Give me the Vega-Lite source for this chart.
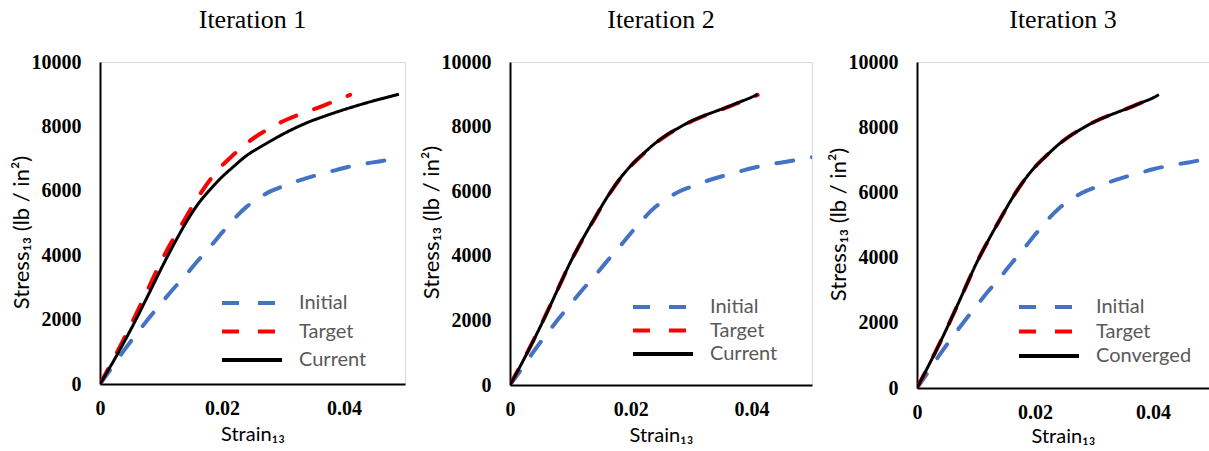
{
  "$schema": "https://vega.github.io/schema/vega-lite/v6.json",
  "padding": {"left": 9, "top": 6, "right": 0, "bottom": 0},
  "background": "#ffffff",
  "datasets": {
    "p1": [
      {"s": "Initial", "x": 0, "y": 0}, {"s": "Initial", "x": 0.002, "y": 520}, {"s": "Initial", "x": 0.004, "y": 1060}, {"s": "Initial", "x": 0.006, "y": 1560}, {"s": "Initial", "x": 0.008, "y": 2040}, {"s": "Initial", "x": 0.010, "y": 2500}, {"s": "Initial", "x": 0.012, "y": 2950}, {"s": "Initial", "x": 0.014, "y": 3370}, {"s": "Initial", "x": 0.016, "y": 3820}, {"s": "Initial", "x": 0.018, "y": 4250}, {"s": "Initial", "x": 0.020, "y": 4700}, {"s": "Initial", "x": 0.022, "y": 5130}, {"s": "Initial", "x": 0.024, "y": 5500}, {"s": "Initial", "x": 0.026, "y": 5770}, {"s": "Initial", "x": 0.028, "y": 5990}, {"s": "Initial", "x": 0.030, "y": 6140}, {"s": "Initial", "x": 0.032, "y": 6280}, {"s": "Initial", "x": 0.034, "y": 6400}, {"s": "Initial", "x": 0.036, "y": 6510}, {"s": "Initial", "x": 0.038, "y": 6610}, {"s": "Initial", "x": 0.040, "y": 6710}, {"s": "Initial", "x": 0.043, "y": 6830}, {"s": "Initial", "x": 0.046, "y": 6920}, {"s": "Initial", "x": 0.049, "y": 7020},
      {"s": "Target", "x": 0, "y": 0}, {"s": "Target", "x": 0.002, "y": 700}, {"s": "Target", "x": 0.004, "y": 1430}, {"s": "Target", "x": 0.006, "y": 2200}, {"s": "Target", "x": 0.008, "y": 3000}, {"s": "Target", "x": 0.010, "y": 3800}, {"s": "Target", "x": 0.012, "y": 4500}, {"s": "Target", "x": 0.014, "y": 5150}, {"s": "Target", "x": 0.016, "y": 5780}, {"s": "Target", "x": 0.018, "y": 6330}, {"s": "Target", "x": 0.020, "y": 6780}, {"s": "Target", "x": 0.022, "y": 7140}, {"s": "Target", "x": 0.024, "y": 7470}, {"s": "Target", "x": 0.026, "y": 7740}, {"s": "Target", "x": 0.028, "y": 7960}, {"s": "Target", "x": 0.030, "y": 8160}, {"s": "Target", "x": 0.032, "y": 8320}, {"s": "Target", "x": 0.034, "y": 8460}, {"s": "Target", "x": 0.036, "y": 8600}, {"s": "Target", "x": 0.038, "y": 8750}, {"s": "Target", "x": 0.040, "y": 8900}, {"s": "Target", "x": 0.041, "y": 8980},
      {"s": "Current", "x": 0, "y": 0}, {"s": "Current", "x": 0.002, "y": 640}, {"s": "Current", "x": 0.004, "y": 1320}, {"s": "Current", "x": 0.006, "y": 2040}, {"s": "Current", "x": 0.008, "y": 2800}, {"s": "Current", "x": 0.010, "y": 3570}, {"s": "Current", "x": 0.012, "y": 4300}, {"s": "Current", "x": 0.014, "y": 4980}, {"s": "Current", "x": 0.016, "y": 5570}, {"s": "Current", "x": 0.018, "y": 6030}, {"s": "Current", "x": 0.020, "y": 6430}, {"s": "Current", "x": 0.022, "y": 6770}, {"s": "Current", "x": 0.024, "y": 7090}, {"s": "Current", "x": 0.026, "y": 7330}, {"s": "Current", "x": 0.028, "y": 7550}, {"s": "Current", "x": 0.030, "y": 7760}, {"s": "Current", "x": 0.032, "y": 7950}, {"s": "Current", "x": 0.034, "y": 8120}, {"s": "Current", "x": 0.037, "y": 8330}, {"s": "Current", "x": 0.040, "y": 8520}, {"s": "Current", "x": 0.0445, "y": 8775}, {"s": "Current", "x": 0.049, "y": 9000}
    ],
    "p2": [
      {"s": "Initial", "x": 0, "y": 0}, {"s": "Initial", "x": 0.002, "y": 520}, {"s": "Initial", "x": 0.004, "y": 1060}, {"s": "Initial", "x": 0.006, "y": 1560}, {"s": "Initial", "x": 0.008, "y": 2040}, {"s": "Initial", "x": 0.010, "y": 2500}, {"s": "Initial", "x": 0.012, "y": 2950}, {"s": "Initial", "x": 0.014, "y": 3370}, {"s": "Initial", "x": 0.016, "y": 3820}, {"s": "Initial", "x": 0.018, "y": 4250}, {"s": "Initial", "x": 0.020, "y": 4700}, {"s": "Initial", "x": 0.022, "y": 5130}, {"s": "Initial", "x": 0.024, "y": 5500}, {"s": "Initial", "x": 0.026, "y": 5770}, {"s": "Initial", "x": 0.028, "y": 5990}, {"s": "Initial", "x": 0.030, "y": 6140}, {"s": "Initial", "x": 0.032, "y": 6280}, {"s": "Initial", "x": 0.034, "y": 6400}, {"s": "Initial", "x": 0.036, "y": 6510}, {"s": "Initial", "x": 0.038, "y": 6610}, {"s": "Initial", "x": 0.040, "y": 6710}, {"s": "Initial", "x": 0.043, "y": 6830}, {"s": "Initial", "x": 0.046, "y": 6920}, {"s": "Initial", "x": 0.049, "y": 7020}, {"s": "Initial", "x": 0.050, "y": 7050},
      {"s": "Target", "x": 0, "y": 0}, {"s": "Target", "x": 0.002, "y": 700}, {"s": "Target", "x": 0.004, "y": 1430}, {"s": "Target", "x": 0.006, "y": 2200}, {"s": "Target", "x": 0.008, "y": 3000}, {"s": "Target", "x": 0.010, "y": 3800}, {"s": "Target", "x": 0.012, "y": 4500}, {"s": "Target", "x": 0.014, "y": 5150}, {"s": "Target", "x": 0.016, "y": 5780}, {"s": "Target", "x": 0.018, "y": 6330}, {"s": "Target", "x": 0.020, "y": 6780}, {"s": "Target", "x": 0.022, "y": 7140}, {"s": "Target", "x": 0.024, "y": 7470}, {"s": "Target", "x": 0.026, "y": 7740}, {"s": "Target", "x": 0.028, "y": 7960}, {"s": "Target", "x": 0.030, "y": 8160}, {"s": "Target", "x": 0.032, "y": 8320}, {"s": "Target", "x": 0.034, "y": 8460}, {"s": "Target", "x": 0.036, "y": 8600}, {"s": "Target", "x": 0.038, "y": 8750}, {"s": "Target", "x": 0.040, "y": 8900}, {"s": "Target", "x": 0.041, "y": 8980},
      {"s": "Current", "x": 0, "y": 0}, {"s": "Current", "x": 0.002, "y": 690}, {"s": "Current", "x": 0.004, "y": 1420}, {"s": "Current", "x": 0.006, "y": 2190}, {"s": "Current", "x": 0.008, "y": 3000}, {"s": "Current", "x": 0.010, "y": 3800}, {"s": "Current", "x": 0.012, "y": 4510}, {"s": "Current", "x": 0.014, "y": 5160}, {"s": "Current", "x": 0.016, "y": 5790}, {"s": "Current", "x": 0.018, "y": 6340}, {"s": "Current", "x": 0.020, "y": 6790}, {"s": "Current", "x": 0.022, "y": 7150}, {"s": "Current", "x": 0.024, "y": 7480}, {"s": "Current", "x": 0.026, "y": 7750}, {"s": "Current", "x": 0.028, "y": 7970}, {"s": "Current", "x": 0.030, "y": 8170}, {"s": "Current", "x": 0.032, "y": 8330}, {"s": "Current", "x": 0.034, "y": 8470}, {"s": "Current", "x": 0.036, "y": 8610}, {"s": "Current", "x": 0.038, "y": 8760}, {"s": "Current", "x": 0.040, "y": 8910}, {"s": "Current", "x": 0.041, "y": 9000}
    ],
    "p3": [
      {"s": "Initial", "x": 0, "y": 0}, {"s": "Initial", "x": 0.002, "y": 520}, {"s": "Initial", "x": 0.004, "y": 1060}, {"s": "Initial", "x": 0.006, "y": 1560}, {"s": "Initial", "x": 0.008, "y": 2040}, {"s": "Initial", "x": 0.010, "y": 2500}, {"s": "Initial", "x": 0.012, "y": 2950}, {"s": "Initial", "x": 0.014, "y": 3370}, {"s": "Initial", "x": 0.016, "y": 3820}, {"s": "Initial", "x": 0.018, "y": 4250}, {"s": "Initial", "x": 0.020, "y": 4700}, {"s": "Initial", "x": 0.022, "y": 5130}, {"s": "Initial", "x": 0.024, "y": 5500}, {"s": "Initial", "x": 0.026, "y": 5770}, {"s": "Initial", "x": 0.028, "y": 5990}, {"s": "Initial", "x": 0.030, "y": 6140}, {"s": "Initial", "x": 0.032, "y": 6280}, {"s": "Initial", "x": 0.034, "y": 6400}, {"s": "Initial", "x": 0.036, "y": 6510}, {"s": "Initial", "x": 0.038, "y": 6610}, {"s": "Initial", "x": 0.040, "y": 6710}, {"s": "Initial", "x": 0.043, "y": 6830}, {"s": "Initial", "x": 0.046, "y": 6920}, {"s": "Initial", "x": 0.049, "y": 7020}, {"s": "Initial", "x": 0.050, "y": 7050},
      {"s": "Target", "x": 0, "y": 0}, {"s": "Target", "x": 0.002, "y": 700}, {"s": "Target", "x": 0.004, "y": 1430}, {"s": "Target", "x": 0.006, "y": 2200}, {"s": "Target", "x": 0.008, "y": 3000}, {"s": "Target", "x": 0.010, "y": 3800}, {"s": "Target", "x": 0.012, "y": 4500}, {"s": "Target", "x": 0.014, "y": 5150}, {"s": "Target", "x": 0.016, "y": 5780}, {"s": "Target", "x": 0.018, "y": 6330}, {"s": "Target", "x": 0.020, "y": 6780}, {"s": "Target", "x": 0.022, "y": 7140}, {"s": "Target", "x": 0.024, "y": 7470}, {"s": "Target", "x": 0.026, "y": 7740}, {"s": "Target", "x": 0.028, "y": 7960}, {"s": "Target", "x": 0.030, "y": 8160}, {"s": "Target", "x": 0.032, "y": 8320}, {"s": "Target", "x": 0.034, "y": 8460}, {"s": "Target", "x": 0.036, "y": 8600}, {"s": "Target", "x": 0.038, "y": 8750}, {"s": "Target", "x": 0.040, "y": 8900}, {"s": "Target", "x": 0.041, "y": 8980},
      {"s": "Converged", "x": 0, "y": 0}, {"s": "Converged", "x": 0.002, "y": 700}, {"s": "Converged", "x": 0.004, "y": 1430}, {"s": "Converged", "x": 0.006, "y": 2200}, {"s": "Converged", "x": 0.008, "y": 3000}, {"s": "Converged", "x": 0.010, "y": 3800}, {"s": "Converged", "x": 0.012, "y": 4500}, {"s": "Converged", "x": 0.014, "y": 5150}, {"s": "Converged", "x": 0.016, "y": 5780}, {"s": "Converged", "x": 0.018, "y": 6330}, {"s": "Converged", "x": 0.020, "y": 6780}, {"s": "Converged", "x": 0.022, "y": 7140}, {"s": "Converged", "x": 0.024, "y": 7470}, {"s": "Converged", "x": 0.026, "y": 7740}, {"s": "Converged", "x": 0.028, "y": 7960}, {"s": "Converged", "x": 0.030, "y": 8160}, {"s": "Converged", "x": 0.032, "y": 8320}, {"s": "Converged", "x": 0.034, "y": 8460}, {"s": "Converged", "x": 0.036, "y": 8600}, {"s": "Converged", "x": 0.038, "y": 8750}, {"s": "Converged", "x": 0.040, "y": 8900}, {"s": "Converged", "x": 0.041, "y": 9000}
    ]
  },
  "config": {
    "view": {"stroke": "#d9d9d9", "strokeWidth": 1},
    "axis": {
      "grid": false, "ticks": false, "domainColor": "#000000", "domainWidth": 2,
      "labelFont": "Liberation Serif", "labelFontSize": 20, "labelFontWeight": "bold", "labelColor": "#000000",
      "labelFlush": false, "labelOverlap": false,
      "titleFont": "Lato", "titleFontSize": 20, "titleFontWeight": "normal", "titleColor": "#000000"
    },
    "axisY": {"titleFontSize": 22},
    "title": {"font": "Liberation Serif", "fontSize": 26, "fontWeight": "normal", "color": "#000000", "anchor": "middle", "offset": 19},
    "legend": {
      "orient": "none", "title": null, "labelFont": "Lato", "labelFontSize": 20, "labelColor": "#595959",
      "symbolType": "M-5,0H5", "symbolSize": 144, "symbolStrokeWidth": 4, "labelOffset": 37, "rowPadding": 4
    }
  },
  "spacing": 13,
  "resolve": {"scale": {"x": "independent", "y": "independent", "color": "independent", "strokeDash": "independent"}, "legend": {"color": "independent", "strokeDash": "independent"}},
  "hconcat": [
    {
      "title": "Iteration 1",
      "width": 305, "height": 322,
      "data": {"name": "p1"},
      "encoding": {
        "x": {"field": "x", "type": "quantitative", "scale": {"domain": [0, 0.05], "nice": false}, "axis": {"values": [0, 0.02, 0.04], "format": "~g", "labelPadding": 14, "titlePadding": 6, "title": "Strain₁₃"}},
        "y": {"field": "y", "type": "quantitative", "scale": {"domain": [0, 10000], "nice": false}, "axis": {"values": [0, 2000, 4000, 6000, 8000, 10000], "format": "d", "labelPadding": 19, "titlePadding": -2, "titleY": 170, "title": "Stress₁₃ (lb / in²)"}},
        "color": {"field": "s", "type": "nominal", "scale": {"domain": ["Initial", "Target", "Current"], "range": ["#4472C4", "#FF0000", "#000000"]}, "legend": {"legendX": 142, "legendY": 231, "rowPadding": 8.5}},
        "strokeDash": {"field": "s", "type": "nominal", "scale": {"domain": ["Initial", "Target", "Current"], "range": [[17, 19], [17, 19], [1, 0]]}, "legend": {"legendX": 142, "legendY": 231, "rowPadding": 8.5}}
      },
      "layer": [
        {"transform": [{"filter": "datum.s !== 'Current'"}], "mark": {"type": "line", "strokeWidth": 4, "strokeCap": "round", "interpolate": "monotone", "clip": true}},
        {"transform": [{"filter": "datum.s === 'Current'"}], "mark": {"type": "line", "strokeWidth": 3, "interpolate": "monotone", "clip": true}}
      ]
    },
    {
      "title": "Iteration 2",
      "width": 302, "height": 323,
      "data": {"name": "p2"},
      "encoding": {
        "x": {"field": "x", "type": "quantitative", "scale": {"domain": [0, 0.05], "nice": false}, "axis": {"values": [0, 0.02, 0.04], "format": "~g", "labelPadding": 14, "titlePadding": 6, "title": "Strain₁₃"}},
        "y": {"field": "y", "type": "quantitative", "scale": {"domain": [0, 10000], "nice": false}, "axis": {"values": [0, 2000, 4000, 6000, 8000, 10000], "format": "d", "labelPadding": 19, "titlePadding": -2, "titleY": 160, "title": "Stress₁₃ (lb / in²)"}},
        "color": {"field": "s", "type": "nominal", "scale": {"domain": ["Initial", "Target", "Current"], "range": ["#4472C4", "#FF0000", "#000000"]}, "legend": {"legendX": 143, "legendY": 235, "rowPadding": 3.5}},
        "strokeDash": {"field": "s", "type": "nominal", "scale": {"domain": ["Initial", "Target", "Current"], "range": [[17, 19], [17, 19], [1, 0]]}, "legend": {"legendX": 143, "legendY": 235, "rowPadding": 3.5}}
      },
      "layer": [
        {"transform": [{"filter": "datum.s !== 'Current'"}], "mark": {"type": "line", "strokeWidth": 4, "strokeCap": "round", "interpolate": "monotone", "clip": true}},
        {"transform": [{"filter": "datum.s === 'Current'"}], "mark": {"type": "line", "strokeWidth": 3, "interpolate": "monotone", "clip": true}}
      ]
    },
    {
      "title": "Iteration 3",
      "width": 292, "height": 326,
      "data": {"name": "p3"},
      "encoding": {
        "x": {"field": "x", "type": "quantitative", "scale": {"domain": [0, 0.0495], "nice": false}, "axis": {"values": [0, 0.02, 0.04], "format": "~g", "labelPadding": 14, "titlePadding": 4, "title": "Strain₁₃"}},
        "y": {"field": "y", "type": "quantitative", "scale": {"domain": [0, 10000], "nice": false}, "axis": {"values": [0, 2000, 4000, 6000, 8000, 10000], "format": "d", "labelPadding": 19, "titlePadding": -2, "titleY": 162, "title": "Stress₁₃ (lb / in²)"}},
        "color": {"field": "s", "type": "nominal", "scale": {"domain": ["Initial", "Target", "Converged"], "range": ["#4472C4", "#FF0000", "#000000"]}, "legend": {"legendX": 122, "legendY": 235, "rowPadding": 4.5}},
        "strokeDash": {"field": "s", "type": "nominal", "scale": {"domain": ["Initial", "Target", "Converged"], "range": [[17, 19], [17, 19], [1, 0]]}, "legend": {"legendX": 122, "legendY": 235, "rowPadding": 4.5}}
      },
      "layer": [
        {"transform": [{"filter": "datum.s !== 'Converged'"}], "mark": {"type": "line", "strokeWidth": 4, "strokeCap": "round", "interpolate": "monotone", "clip": true}},
        {"transform": [{"filter": "datum.s === 'Converged'"}], "mark": {"type": "line", "strokeWidth": 3, "interpolate": "monotone", "clip": true}}
      ]
    }
  ]
}
